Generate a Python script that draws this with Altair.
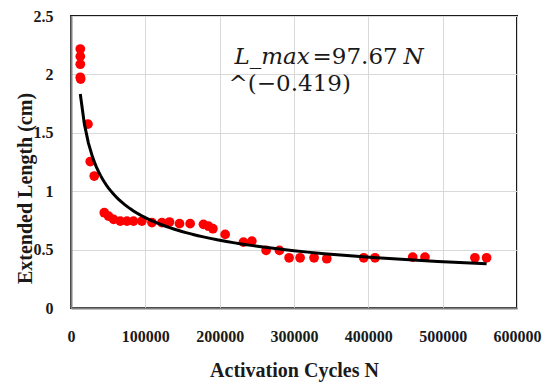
import altair as alt
import pandas as pd

# Activation cycles N and extended length (cm)
cycles = [12500, 12500, 12500, 12500, 13000, 22800, 25900, 31300, 44800, 50500,
          57300, 66300, 75300, 84100, 95400, 108900, 122300, 132500, 146000, 160300,
          178200, 185000, 190900, 207400, 232000, 243300, 262500, 280400, 293400, 308200,
          327000, 344100, 393800, 409000, 459700, 476200, 543400, 559100]
length_cm = [2.217, 2.154, 2.087, 1.975, 1.960, 1.574, 1.254, 1.130, 0.816, 0.787,
             0.759, 0.744, 0.744, 0.744, 0.744, 0.731, 0.731, 0.736, 0.722, 0.722,
             0.716, 0.700, 0.679, 0.630, 0.564, 0.573, 0.493, 0.493, 0.430, 0.430,
             0.430, 0.422, 0.430, 0.430, 0.436, 0.436, 0.430, 0.430]

x_ticks = [0, 100000, 200000, 300000, 400000, 500000, 600000]
y_ticks = [0, 0.5, 1, 1.5, 2, 2.5]

# annotation (equation of the power trend line)
ann_parts = ["L_max", "=97.67", "N", "^(\u22120.419)"]
ann_x = [220000, 220000, 220000, 212000]
ann_y = [2.088, 2.088, 2.088, 1.857]
ann_style = ["italic", "normal", "italic", "normal"]
ann_dx = [0, 78, 169, 0]

df = pd.DataFrame({"N": cycles, "L": length_cm})
ann = pd.DataFrame({"t": ann_parts, "x": ann_x, "y": ann_y})

serif = "Liberation Serif"

xscale = alt.Scale(domain=[0, 600000], nice=False)
yscale = alt.Scale(domain=[0, 2.5], nice=False)

xaxis = alt.Axis(values=x_ticks, format="d", title="Activation Cycles N",
                 labelFont=serif, labelFontWeight="bold", labelFontSize=16, labelColor="#1a1a1a",
                 labelPadding=20, labelFlush=False, labelOverlap=False,
                 ticks=False, grid=True, gridColor="#d9d9d9", gridWidth=1,
                 domainColor="#7f7f7f", domainWidth=2,
                 titleFont=serif, titleFontWeight="bold", titleFontSize=20, titleColor="#1a1a1a",
                 titleY=68, titleBaseline="alphabetic")
yaxis = alt.Axis(values=y_ticks, format="~g", title="Extended Length (cm)",
                 labelFont=serif, labelFontWeight="bold", labelFontSize=16, labelColor="#1a1a1a",
                 labelPadding=18, labelFlush=False, labelOverlap=False,
                 ticks=False, grid=True, gridColor="#d9d9d9", gridWidth=1,
                 domainColor="#7f7f7f", domainWidth=2,
                 titleFont=serif, titleFontWeight="bold", titleFontSize=20, titleColor="#1a1a1a",
                 titleAngle=-90, titleX=-46, titleY=172, titleAlign="center", titleBaseline="middle")

base = alt.Chart(df)

points = base.mark_circle(size=95, color="#ff0000", opacity=1).encode(
    x=alt.X("N:Q", scale=xscale, axis=xaxis),
    y=alt.Y("L:Q", scale=yscale, axis=yaxis),
)

trend = base.transform_regression("N", "L", method="pow").mark_line(
    color="black", strokeWidth=3
).encode(x=alt.X("N:Q", scale=xscale), y=alt.Y("L:Q", scale=yscale))

texts = []
for i in range(len(ann_parts)):
    texts.append(
        alt.Chart(ann.iloc[[i]]).mark_text(font="DejaVu Serif", fontSize=23, align="left",
                                            baseline="alphabetic", color="#1a1a1a",
                                            fontStyle=ann_style[i], dx=ann_dx[i]).encode(
            x=alt.X("x:Q", scale=xscale),
            y=alt.Y("y:Q", scale=yscale),
            text="t:N",
        )
    )

chart = alt.layer(points, trend, *texts).properties(
    width=446, height=292,
    background="white",
    autosize=alt.AutoSizeParams(type="none"),
    padding={"left": 71, "top": 16, "right": 27, "bottom": 77},
).configure_view(stroke="#1a1a1a", strokeWidth=2)

chart.save("out.html", embed_options={"renderer": "svg", "actions": False})
